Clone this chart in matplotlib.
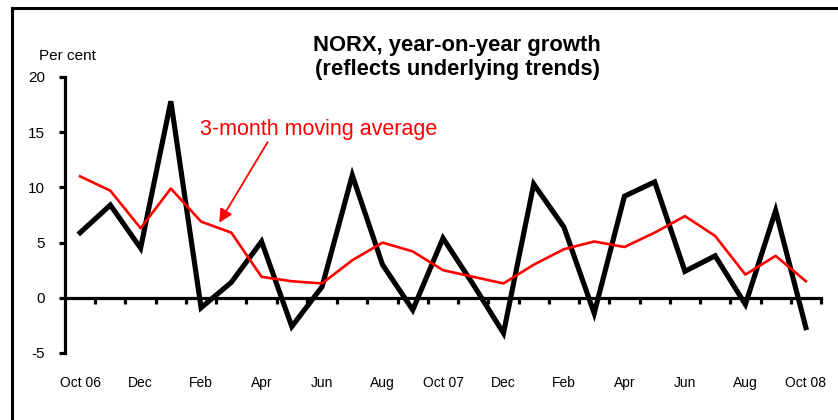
import numpy as np
import matplotlib
matplotlib.use("Agg")
import matplotlib.pyplot as plt
import matplotlib.patches as mpatches

plt.rcParams["font.family"] = ["Liberation Sans", "DejaVu Sans"]

# monthly data, Oct 06 .. Oct 08
months = [
    "Oct 06", "Nov", "Dec", "Jan 07", "Feb", "Mar", "Apr", "May", "Jun",
    "Jul", "Aug", "Sep", "Oct 07", "Nov", "Dec", "Jan 08", "Feb", "Mar",
    "Apr", "May", "Jun", "Jul", "Aug", "Sep", "Oct 08",
]
norx_yoy = [
    5.9, 8.4, 4.5, 17.8, -0.9, 1.4, 5.1, -2.6, 1.0, 11.1, 3.0, -1.1,
    5.4, 1.2, -3.2, 10.3, 6.4, -1.4, 9.2, 10.5, 2.4, 3.8, -0.6, 7.9, -2.7,
]
norx_3m_avg = [
    11.0, 9.7, 6.3, 9.9, 6.9, 5.9, 1.9, 1.5, 1.3, 3.4, 5.0, 4.2,
    2.5, 1.9, 1.3, 3.0, 4.4, 5.1, 4.6, 5.9, 7.4, 5.6, 2.1, 3.8, 1.5,
]
yticks = [-5, 0, 5, 10, 15, 20]

x = np.arange(len(months))

fig = plt.figure(figsize=(8.38, 4.2), dpi=100)
ax = fig.add_axes([65 / 838, 1 - 353 / 420, 756 / 838, 276 / 420])

ax.plot(x, norx_yoy, color="black", lw=3.7, solid_joinstyle="miter", zorder=3)
ax.plot(x, norx_3m_avg, color="red", lw=1.9, zorder=4)

ax.set_xlim(-0.5, len(months) - 0.5)
ax.set_ylim(-5, 20)
ax.set_yticks(yticks)
ax.set_yticklabels([str(v) for v in yticks], fontsize=11)

# labels every second month (year only on October), tick marks between categories
ax.set_xticks(x[::2])
ax.set_xticklabels([m if m.startswith("Oct") else m.split()[0]
                    for m in months[::2]], fontsize=12)
ax.set_xticks(np.arange(len(months)) + 0.5, minor=True)

for s in ("top", "right"):
    ax.spines[s].set_visible(False)
ax.spines["bottom"].set_position(("data", 0))
ax.spines["bottom"].set_linewidth(2.3)
ax.spines["left"].set_linewidth(2.3)
ax.spines["bottom"].set_zorder(2)

ax.tick_params(axis="x", which="major", length=0, pad=56)
ax.tick_params(axis="x", which="minor", length=4.5, width=2.3, direction="out")
ax.tick_params(axis="y", length=4.5, width=2.3, direction="out", pad=10)

ax.text(3.95, 15.2, "3-month moving average", color="red", fontsize=15.5,
        va="center", ha="left")
ax.annotate("", xy=(4.6, 6.8), xytext=(6.2, 14.1),
            arrowprops=dict(arrowstyle="-|>", color="red", lw=1.3,
                            mutation_scale=20, shrinkA=0, shrinkB=0))

fig.text(457 / 838, 1 - 46 / 420, "NORX, year-on-year growth",
         fontsize=15.8, fontweight="bold", ha="center", va="center")
fig.text(457 / 838, 1 - 70 / 420, "(reflects underlying trends)",
         fontsize=15.8, fontweight="bold", ha="center", va="center")
fig.text(39 / 838, 1 - 56 / 420, "Per cent", fontsize=11,
         ha="left", va="center")

# outer frame, runs off the right and bottom edges
fig.add_artist(mpatches.Rectangle((12 / 838, -0.1), 1.2, 0.1 + 1 - 8.5 / 420,
                                  transform=fig.transFigure, fill=False,
                                  lw=2.2, edgecolor="black"))

plt.savefig("out.png", dpi=100)
plt.close()
